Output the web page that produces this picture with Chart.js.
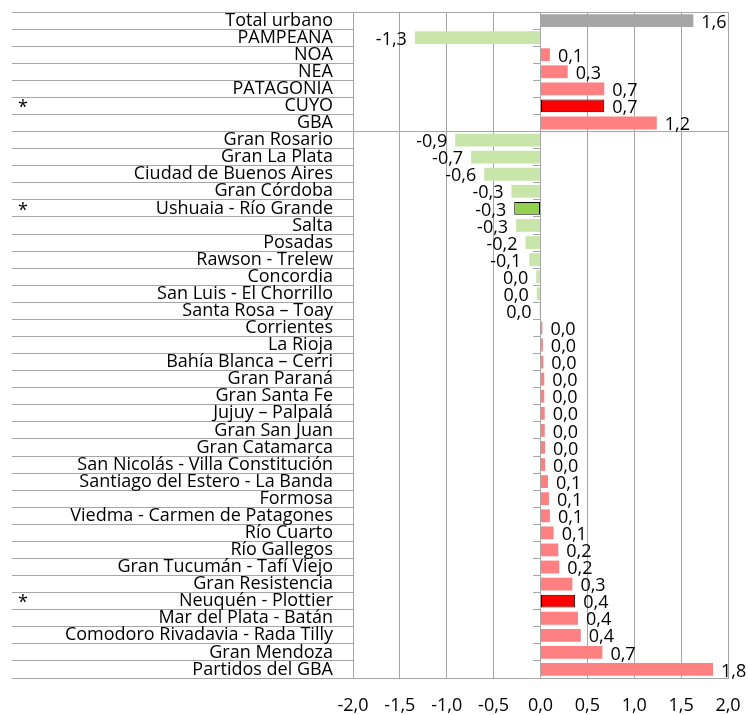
<!DOCTYPE html>
<html>
<head>
<meta charset="utf-8">
<script src="https://cdn.jsdelivr.net/npm/chart.js@4"></script>
<style>
  body { margin: 0; background: #fff; }
</style>
</head>
<body>
<canvas id="myChart" width="748" height="715"></canvas>
<script>
// aglomerados / regiones
const ciudades = [
  'Total urbano', 'PAMPEANA', 'NOA', 'NEA', 'PATAGONIA', 'CUYO', 'GBA',
  'Gran Rosario', 'Gran La Plata', 'Ciudad de Buenos Aires', 'Gran Córdoba',
  'Ushuaia - Río Grande', 'Salta', 'Posadas', 'Rawson - Trelew', 'Concordia',
  'San Luis - El Chorrillo', 'Santa Rosa – Toay', 'Corrientes', 'La Rioja',
  'Bahía Blanca – Cerri', 'Gran Paraná', 'Gran Santa Fe', 'Jujuy – Palpalá',
  'Gran San Juan', 'Gran Catamarca', 'San Nicolás - Villa Constitución',
  'Santiago del Estero - La Banda', 'Formosa', 'Viedma - Carmen de Patagones',
  'Río Cuarto', 'Río Gallegos', 'Gran Tucumán - Tafí Viejo', 'Gran Resistencia',
  'Neuquén - Plottier', 'Mar del Plata - Batán', 'Comodoro Rivadavia - Rada Tilly',
  'Gran Mendoza', 'Partidos del GBA'
];

const valores = [
  1.63, -1.34, 0.10, 0.29, 0.68, 0.68, 1.24,
  -0.91, -0.74, -0.60, -0.31,
  -0.28, -0.26, -0.16, -0.12, -0.045,
  -0.04, -0.01, 0.02, 0.025,
  0.03, 0.04, 0.04, 0.045,
  0.045, 0.048, 0.048,
  0.08, 0.09, 0.10,
  0.14, 0.19, 0.20, 0.34,
  0.37, 0.40, 0.43,
  0.66, 1.84
];

// marcados con asterisco y resaltados
const destacados = ['CUYO', 'Ushuaia - Río Grande', 'Neuquén - Plottier'];

const xTicks = [-2, -1.5, -1, -0.5, 0, 0.5, 1, 1.5, 2];

const gris = '#a6a6a6';
const fuente = { family: 'Open Sans', size: 18 };

function fmt(v) {
  if (Math.abs(v) < 0.05) return '0,0';
  return v.toFixed(1).replace('.', ',');
}

const colores = valores.map((v, i) => {
  const dest = destacados.includes(ciudades[i]);
  if (i === 0) return '#a6a6a6';
  if (v < 0) return dest ? '#92d050' : '#c9e6aa';
  return dest ? '#ff0000' : '#ff8080';
});
const bordes = ciudades.map(c => destacados.includes(c) ? 1 : 0);

const etiquetas = {
  id: 'etiquetas',
  afterDatasetsDraw(chart) {
    const ctx = chart.ctx;
    const meta = chart.getDatasetMeta(0);
    ctx.save();
    ctx.font = '18px "Open Sans"';
    ctx.fillStyle = '#000';
    ctx.textBaseline = 'middle';
    meta.data.forEach((bar, i) => {
      const v = valores[i];
      if (v >= 0) {
        ctx.textAlign = 'left';
        ctx.fillText(fmt(v), bar.x + 8, bar.y + 2);
      } else {
        ctx.textAlign = 'right';
        ctx.fillText(fmt(v), bar.x - 8, bar.y + 2);
      }
    });
    const y = chart.scales.y;
    ctx.textAlign = 'left';
    destacados.forEach(nombre => {
      const i = ciudades.indexOf(nombre);
      ctx.fillText('*', 18, y.getPixelForValue(i) + 2);
    });
    ctx.restore();
  }
};

const ctx = document.getElementById('myChart').getContext('2d');
new Chart(ctx, {
  type: 'bar',
  data: {
    labels: ciudades,
    datasets: [{
      data: valores,
      backgroundColor: colores,
      borderColor: '#000',
      borderWidth: bordes,
      borderSkipped: false,
      barPercentage: 0.75,
      categoryPercentage: 1
    }]
  },
  options: {
    indexAxis: 'y',
    responsive: false,
    animation: false,
    layout: { padding: { top: 12, left: 12, right: 20, bottom: 0 } },
    plugins: {
      legend: { display: false },
      tooltip: { enabled: false }
    },
    scales: {
      x: {
        min: -2,
        max: 2,
        afterBuildTicks(s) { s.ticks = xTicks.map(v => ({ value: v })); },
        afterFit(s) { s.height = 37; },
        ticks: {
          color: '#000',
          font: fuente,
          padding: 0,
          callback: v => v.toFixed(1).replace('.', ',')
        },
        grid: { color: gris, drawTicks: true, tickLength: 17, tickColor: 'rgba(0,0,0,0)' },
        border: { color: gris }
      },
      y: {
        position: 'left',
        afterFit(s) { s.width = 341; },
        grid: {
          offset: true,
          tickLength: 341,
          color: c => (c.index === 0 || c.index === 7 || c.index === ciudades.length) ? gris : 'rgba(0,0,0,0)',
          tickColor: gris
        },
        border: { display: false },
        ticks: {
          autoSkip: false,
          padding: -321,
          color: '#000',
          font: fuente
        }
      },
      y2: {
        axis: 'y',
        type: 'category',
        position: { x: 0 },
        offset: true,
        afterFit(s) { s.width = 0; },
        grid: { offset: true, drawOnChartArea: false, tickLength: 7, color: gris },
        ticks: { display: false },
        border: { color: gris }
      }
    }
  },
  plugins: [etiquetas]
});
</script>
</body>
</html>
